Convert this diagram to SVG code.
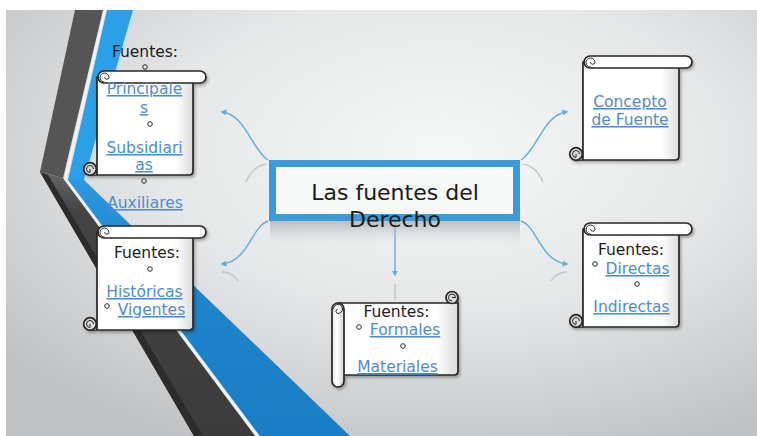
<svg xmlns="http://www.w3.org/2000/svg" width="757" height="436" viewBox="0 0 757 436">
<defs>
<style>
.t{font-family:"DejaVu Sans",Verdana,sans-serif;font-size:15.5px;fill:#1c1c1c;text-anchor:middle}
.l{fill:#4f8bd1;text-decoration:underline}
.title{font-size:22px;fill:#1a1a1a}
.b{fill:none;stroke:#2a2a2a;stroke-width:1}
.ln{stroke:#262626;stroke-width:1.7;stroke-linejoin:round}
.con{fill:none;stroke:#5aaee0;stroke-width:1.4}
.ghost{fill:none;stroke:#b4b8bc;stroke-width:1.4;opacity:.7}
</style>
<radialGradient id="bg" cx="0.58" cy="0.33" r="0.75">
<stop offset="0" stop-color="#f6f7f7"/>
<stop offset="0.5" stop-color="#e5e7e8"/>
<stop offset="1" stop-color="#c0c2c4"/>
</radialGradient>
<linearGradient id="blueLow" gradientUnits="userSpaceOnUse" x1="0" y1="180" x2="0" y2="436">
<stop offset="0" stop-color="#2d97df"/>
<stop offset="0.3" stop-color="#1f86cd"/>
<stop offset="1" stop-color="#1a7dc5"/>
</linearGradient>
<linearGradient id="darkLow" gradientUnits="userSpaceOnUse" x1="0" y1="172" x2="0" y2="436">
<stop offset="0" stop-color="#666"/>
<stop offset="0.15" stop-color="#444"/>
<stop offset="1" stop-color="#3b3b3b"/>
</linearGradient>
<linearGradient id="paper" x1="0" y1="0" x2="1" y2="0">
<stop offset="0" stop-color="#fff"/>
<stop offset="0.82" stop-color="#fff"/>
<stop offset="1" stop-color="#dcdcdc"/>
</linearGradient>
<linearGradient id="rollV" x1="0" y1="0" x2="1" y2="0">
<stop offset="0" stop-color="#e4e4e4"/>
<stop offset="0.4" stop-color="#fff"/>
<stop offset="1" stop-color="#d0d0d0"/>
</linearGradient>
<linearGradient id="refl" x1="0" y1="0" x2="0" y2="1">
<stop offset="0" stop-color="#aeb2b6" stop-opacity="0.8"/>
<stop offset="1" stop-color="#c8ccd0" stop-opacity="0"/>
</linearGradient>
<filter id="sh" x="-20%" y="-20%" width="140%" height="140%">
<feDropShadow dx="1.5" dy="2" stdDeviation="1.5" flood-color="#000" flood-opacity="0.3"/>
</filter>
<marker id="ah" viewBox="0 0 8 8" refX="6" refY="4" markerWidth="6" markerHeight="6" markerUnits="userSpaceOnUse" orient="auto">
<path d="M0,0 L8,4 L0,8 Z" fill="#5aaee0"/>
</marker>
<g id="vscroll">
<path class="ln" d="M-1,6 H95 V100 Q95,104 91,104 H-1 Z" fill="url(#paper)"/>
<rect class="ln" x="0" y="0" width="108" height="12" rx="6" fill="#fff"/>
<path class="b" d="M6.5,11 A4.5,4.5 0 1,1 11,6.5 A2.3,2.3 0 0,1 6.5,6.2" stroke-width="1.3"/>
<circle class="ln" cx="-8" cy="98" r="6.3" fill="#d9d9d9"/>
<path class="b" d="M-8,104.3 H-1" stroke-width="1.7"/>
<path class="b" d="M-4.5,98 A3.5,3.5 0 1,0 -8,101.5 V98" stroke-width="1.2"/>
</g>
</defs>

<rect x="0" y="0" width="757" height="436" fill="#fff"/>
<rect x="6" y="10" width="751" height="426" fill="url(#bg)"/>

<g id="background-bands">
<polygon points="75,10 103,10 63,178 40,172" fill="#555"/>
<polygon points="40,172 63,178 255,436 194,436" fill="url(#darkLow)"/>
<polygon points="40,172 48,175 203,436 194,436" fill="#2c2c2c"/>
<polyline points="105,10 65.5,179 257.5,436" fill="none" stroke="#eef3f6" stroke-width="3"/>
<polygon points="107,10 133,10 84,180 68,180" fill="#2ba0e6"/>
<polygon points="68,180 84,180 350,436 260,436" fill="url(#blueLow)"/>
<polyline points="134.5,10 85.5,180" fill="none" stroke="#bfe2f6" stroke-width="2"/>
</g>

<g id="connectors">
<path class="ghost" d="M266,164 C256,166 250,172 246,182"/>
<path class="ghost" d="M523,164 C533,166 539,172 543,182"/>
<path class="ghost" d="M222,272 C228,272 234,275 238,281"/>
<path class="ghost" d="M567,272 C561,272 555,275 551,281"/>
<path class="ghost" d="M395,284 V300"/>
<path class="con" marker-end="url(#ah)" d="M268,160 C252,150 245,114 222,112"/>
<path class="con" marker-end="url(#ah)" d="M521,160 C537,150 544,114 567,112"/>
<path class="con" marker-end="url(#ah)" d="M268,221 C252,226 248,262 222,264"/>
<path class="con" marker-end="url(#ah)" d="M521,221 C537,226 541,262 567,264"/>
<path class="con" marker-end="url(#ah)" d="M395,222 V275"/>
</g>

<g id="node-center">
<rect x="270" y="221" width="250" height="22" fill="url(#refl)"/>
<rect x="272.5" y="163.5" width="244" height="54" fill="#f7f8f8" stroke="#3b9ad9" stroke-width="7"/>
<text class="t title" x="395" y="200">Las fuentes del</text>
<text class="t title" x="395" y="227">Derecho</text>
</g>

<g id="node-principales">
<use href="#vscroll" x="98" y="71" filter="url(#sh)"/>
<text class="t" x="145" y="57">Fuentes:</text>
<circle class="b" cx="145" cy="67" r="2.3"/>
<text class="t l" x="144.5" y="94">Principale</text>
<text class="t l" x="144" y="113">s</text>
<circle class="b" cx="150" cy="124" r="2.3"/>
<text class="t l" x="144.5" y="153">Subsidiari</text>
<text class="t l" x="144" y="170">as</text>
<circle class="b" cx="144" cy="181" r="2.3"/>
<text class="t l" x="145" y="208">Auxiliares</text>
</g>

<g id="node-historicas">
<use href="#vscroll" x="98" y="226" filter="url(#sh)"/>
<text class="t" x="147" y="258">Fuentes:</text>
<circle class="b" cx="150" cy="269" r="2.3"/>
<text class="t l" x="144.5" y="297">Históricas</text>
<circle class="b" cx="107" cy="306" r="2.3"/>
<text class="t l" x="151.5" y="315">Vigentes</text>
</g>

<g id="node-concepto">
<use href="#vscroll" x="584" y="56" filter="url(#sh)"/>
<text class="t l" x="630" y="107">Concepto</text>
<text class="t l" x="630" y="125">de Fuente</text>
</g>

<g id="node-directas">
<use href="#vscroll" x="584" y="223" filter="url(#sh)"/>
<text class="t" x="631" y="255">Fuentes:</text>
<circle class="b" cx="595" cy="264" r="2.3"/>
<text class="t l" x="637.5" y="274">Directas</text>
<circle class="b" cx="637" cy="284" r="2.3"/>
<text class="t l" x="631.5" y="312">Indirectas</text>
</g>

<g id="node-formales">
<g filter="url(#sh)">
<path class="ln" d="M338,303 H458 V371 Q458,375 454,375 H338 Z" fill="url(#paper)"/>
<circle class="ln" cx="452" cy="297.5" r="6" fill="#d9d9d9"/>
<path class="b" d="M458,297.5 V303" stroke-width="1.7"/>
<path class="b" d="M452,301 A3.5,3.5 0 1,1 455.5,297.5 H452" stroke-width="1.2"/>
<rect class="ln" x="332" y="303" width="12" height="84" rx="6" fill="url(#rollV)"/>
<path class="b" d="M333.5,309 A4.5,4.5 0 1,1 338,313.5 A2.3,2.3 0 0,1 337.7,309" stroke-width="1.2"/>
</g>
<text class="t" x="396.5" y="317">Fuentes:</text>
<circle class="b" cx="359" cy="327" r="2.3"/>
<text class="t l" x="405" y="335">Formales</text>
<circle class="b" cx="403" cy="346" r="2.3"/>
<text class="t l" x="397.5" y="372">Materiales</text>
</g>
</svg>
